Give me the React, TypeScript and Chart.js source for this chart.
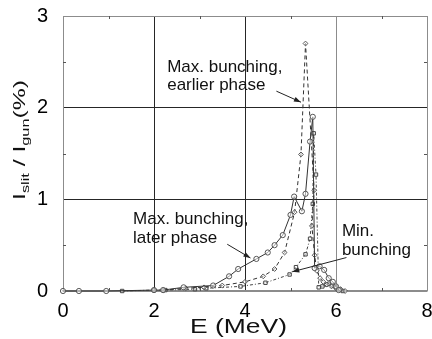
import { useEffect, useRef } from "react";
import { Chart, registerables } from "chart.js";

Chart.register(...registerables);

// ---- data (E in MeV, I_slit/I_gun in %) ----
const laterPhaseE = [0, 0.35, 0.95, 2.0, 2.2, 2.65, 3.3, 3.65, 3.85, 4.25, 4.5, 4.65, 4.83, 5.0, 5.08, 5.25, 5.33, 5.43, 5.49, 5.53, 5.64, 5.74, 5.84, 5.93, 6.0, 6.06];
const laterPhaseI = [0, 0, 0, 0.01, 0.01, 0.04, 0.06, 0.16, 0.24, 0.35, 0.42, 0.5, 0.61, 0.83, 1.03, 0.87, 1.06, 1.63, 1.9, 0.25, 0.27, 0.23, 0.14, 0.1, 0.05, 0.01];

const earlierPhaseE = [2.2, 2.7, 3.1, 3.5, 4.0, 4.4, 4.65, 4.87, 5.09, 5.23, 5.33, 5.52, 5.47, 5.53, 5.58, 5.65, 5.72, 5.8, 5.9, 6.0, 6.1, 6.2];
const earlierPhaseI = [0.01, 0.03, 0.04, 0.06, 0.1, 0.16, 0.24, 0.42, 0.86, 1.49, 2.7, 1.1, 0.71, 0.39, 0.22, 0.14, 0.1, 0.07, 0.05, 0.03, 0.02, 0];

const minBunchingE = [1.3, 2.0, 2.25, 2.9, 3.15, 3.9, 4.45, 4.98, 5.12, 5.33, 5.43, 5.49, 5.51, 5.56, 5.62, 5.7, 5.78, 5.85, 5.92, 6.0, 6.08, 6.15];
const minBunchingI = [0, 0.01, 0.01, 0.02, 0.03, 0.05, 0.09, 0.18, 0.26, 0.4, 0.57, 0.95, 1.72, 1.27, 0.04, 0.05, 0.07, 0.08, 0.06, 0.04, 0.02, 0];

const xTickValues = [0, 2, 4, 6, 8];
const yTickValues = [0, 1, 2, 3];
const xMinorTicks = [1, 3, 5, 7];
const yMinorTicks = [0.5, 1.5, 2.5];

const annotationTexts = [
  ["Max. bunching,", "earlier phase"],
  ["Max. bunching,", "later phase"],
  ["Min.", "bunching"],
];
// text anchor [E, I] and pointer from/to [E, I]
const annotationAnchors = [
  [2.29, 2.39],
  [1.54, 0.73],
  [6.13, 0.6],
];
const annotationPointers = [
  [4.69, 2.18, 5.23, 2.06],
  [3.61, 0.51, 4.12, 0.36],
  [6.23, 0.365, 5.04, 0.21],
];

const FONT = '"Liberation Sans", Arial, Helvetica, sans-serif';

const toPoints = (xs: number[], ys: number[]) => xs.map((x, i) => ({ x, y: ys[i] }));

const decorPlugin = {
  id: "decor",
  afterDraw(chart: any) {
    const ctx = chart.ctx as CanvasRenderingContext2D;
    const xs = chart.scales.x;
    const ys = chart.scales.y;
    const area = chart.chartArea;

    // minor ticks
    ctx.save();
    ctx.strokeStyle = "#555";
    ctx.lineWidth = 1;
    ctx.beginPath();
    xMinorTicks.forEach((v) => {
      const px = Math.round(xs.getPixelForValue(v)) + 0.5;
      ctx.moveTo(px, area.bottom);
      ctx.lineTo(px, area.bottom - 3);
      ctx.moveTo(px, area.top);
      ctx.lineTo(px, area.top + 3);
    });
    yMinorTicks.forEach((v) => {
      const py = Math.round(ys.getPixelForValue(v)) + 0.5;
      ctx.moveTo(area.left, py);
      ctx.lineTo(area.left + 3, py);
      ctx.moveTo(area.right, py);
      ctx.lineTo(area.right - 3, py);
    });
    ctx.stroke();
    ctx.restore();

    // annotations
    ctx.save();
    ctx.fillStyle = "#111";
    ctx.font = `17px ${FONT}`;
    ctx.textAlign = "left";
    ctx.textBaseline = "alphabetic";
    annotationTexts.forEach((lines, k) => {
      const ax = xs.getPixelForValue(annotationAnchors[k][0]);
      const ay = ys.getPixelForValue(annotationAnchors[k][1]);
      lines.forEach((t, j) => ctx.fillText(t, ax, ay + j * 18.5));
      const p = annotationPointers[k];
      const x1 = xs.getPixelForValue(p[0]);
      const y1 = ys.getPixelForValue(p[1]);
      const x2 = xs.getPixelForValue(p[2]);
      const y2 = ys.getPixelForValue(p[3]);
      ctx.strokeStyle = "#222";
      ctx.lineWidth = 1;
      ctx.beginPath();
      ctx.moveTo(x1, y1);
      ctx.lineTo(x2, y2);
      ctx.stroke();
      const ang = Math.atan2(y2 - y1, x2 - x1);
      const L = 7, W = 2.5;
      ctx.beginPath();
      ctx.moveTo(x2, y2);
      ctx.lineTo(x2 - L * Math.cos(ang) + W * Math.sin(ang), y2 - L * Math.sin(ang) - W * Math.cos(ang));
      ctx.lineTo(x2 - L * Math.cos(ang) - W * Math.sin(ang), y2 - L * Math.sin(ang) + W * Math.cos(ang));
      ctx.closePath();
      ctx.fillStyle = "#222";
      ctx.fill();
      ctx.fillStyle = "#111";
    });
    ctx.restore();

    // y-axis title with subscripts
    ctx.save();
    const parts: [string, number, number][] = [
      ["I", 16, 0],
      ["slit", 10.5, 4],
      [" / I", 16, 0],
      ["gun", 10.5, 4],
      ["(%)", 16, 0],
    ];
    let total = 0;
    parts.forEach(([t, s]) => {
      ctx.font = `${s}px ${FONT}`;
      total += ctx.measureText(t).width;
    });
    const targetLen = 120;
    const sx = targetLen / total;
    ctx.translate(25, 140);
    ctx.rotate(-Math.PI / 2);
    ctx.scale(sx, 1);
    ctx.fillStyle = "#111";
    ctx.textBaseline = "alphabetic";
    let cx = -total / 2;
    parts.forEach(([t, s, dy]) => {
      ctx.font = `${s}px ${FONT}`;
      ctx.fillText(t, cx, dy);
      cx += ctx.measureText(t).width;
    });
    ctx.restore();

    // x-axis title
    ctx.save();
    ctx.font = `21px ${FONT}`;
    ctx.fillStyle = "#111";
    const tw = ctx.measureText("E (MeV)").width;
    ctx.translate(238.5, 333);
    ctx.scale(97 / tw, 1);
    ctx.textAlign = "center";
    ctx.fillText("E (MeV)", 0, 0);
    ctx.restore();
  },
};

export default function App() {
  const ref = useRef<HTMLCanvasElement | null>(null);

  useEffect(() => {
    if (!ref.current) return;
    const gridColor = (v: number, edges: number[], light: number[]) =>
      edges.includes(v) || light.includes(v) ? "#8c8c8c" : "#262626";

    const chart = new Chart(ref.current, {
      type: "scatter",
      data: {
        datasets: [
          {
            label: "Max. bunching, later phase",
            data: toPoints(laterPhaseE, laterPhaseI),
            showLine: true,
            borderColor: "#333",
            borderWidth: 1,
            pointStyle: "circle",
            pointRadius: 2.6,
            pointBorderColor: "#555",
            pointBackgroundColor: "rgba(255,255,255,0.5)",
            pointBorderWidth: 1,
            clip: false,
          } as any,
          {
            label: "Max. bunching, earlier phase",
            data: toPoints(earlierPhaseE, earlierPhaseI),
            showLine: true,
            borderColor: "#333",
            borderWidth: 1,
            borderDash: [4, 3],
            pointStyle: "rectRot",
            pointRadius: 2.4,
            pointBorderColor: "#555",
            pointBackgroundColor: "rgba(255,255,255,0.5)",
            pointBorderWidth: 1,
            clip: false,
          } as any,
          {
            label: "Min. bunching",
            data: toPoints(minBunchingE, minBunchingI),
            showLine: true,
            borderColor: "#444",
            borderWidth: 1,
            borderDash: [3, 2, 1, 2],
            pointStyle: "rect",
            pointRadius: 2.4,
            pointBorderColor: "#444",
            pointBackgroundColor: "rgba(255,255,255,0.5)",
            pointBorderWidth: 1,
            clip: false,
          } as any,
        ],
      },
      options: {
        animation: false,
        responsive: false,
        devicePixelRatio: 1,
        layout: { padding: { top: 16, right: 4, left: 0, bottom: 0 } },
        plugins: {
          legend: { display: false },
          tooltip: { enabled: false },
          title: { display: false },
        },
        scales: {
          x: {
            type: "linear",
            min: 0,
            max: 8,
            afterBuildTicks: (s: any) => {
              s.ticks = xTickValues.map((v) => ({ value: v }));
            },
            afterFit: (s: any) => {
              s.height = 48;
              s.paddingLeft = 0;
              s.paddingRight = 0;
            },
            ticks: {
              color: "#000",
              font: { family: FONT, size: 20 },
              padding: 8,
              maxRotation: 0,
            },
            grid: {
              drawTicks: false,
              color: (c: any) => gridColor(c.tick?.value, [0, 8], [6]),
              lineWidth: 1,
            },
            border: { display: true, color: "#8c8c8c", width: 1.5 },
          },
          y: {
            type: "linear",
            min: 0,
            max: 3,
            afterBuildTicks: (s: any) => {
              s.ticks = yTickValues.map((v) => ({ value: v }));
            },
            afterFit: (s: any) => {
              s.width = 63;
              s.paddingTop = 0;
              s.paddingBottom = 0;
            },
            ticks: {
              color: "#000",
              font: { family: FONT, size: 20 },
              padding: 15,
            },
            grid: {
              drawTicks: false,
              color: (c: any) => gridColor(c.tick?.value, [0, 3], []),
              lineWidth: 1,
            },
            border: { display: true, color: "#8c8c8c", width: 1 },
          },
        },
      },
      plugins: [decorPlugin],
    });
    return () => chart.destroy();
  }, []);

  return (
    <div style={{ position: "absolute", left: 0, top: 0, width: 432, height: 339, background: "#fff" }}>
      <canvas ref={ref} width={432} height={339} style={{ display: "block" }} />
    </div>
  );
}
